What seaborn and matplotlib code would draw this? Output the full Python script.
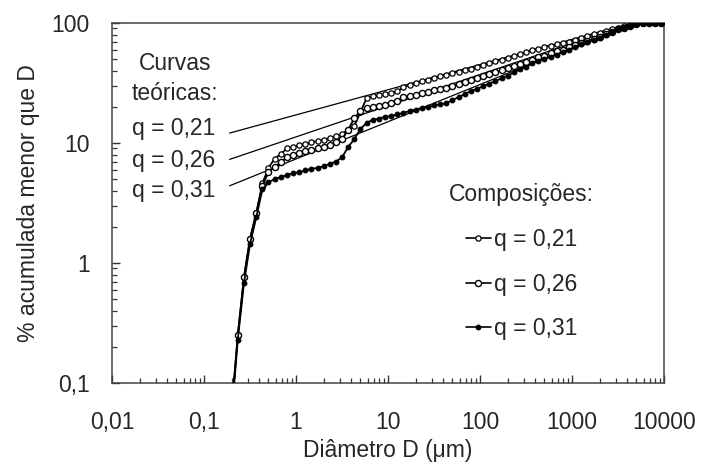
import numpy as np
import pandas as pd
import matplotlib
matplotlib.use("Agg")
import matplotlib.pyplot as plt
import seaborn as sns
from matplotlib.ticker import FixedLocator, FixedFormatter, LogLocator, NullFormatter
from matplotlib.lines import Line2D

# ---------------- data ----------------
diam_um = [0.200, 0.233, 0.272, 0.317, 0.370, 0.431, 0.502, 0.586, 0.683, 0.796,
           0.928, 1.08, 1.26, 1.47, 1.72, 2.00, 2.33, 2.72, 3.17, 3.70,
           4.31, 5.02, 5.86, 6.83, 7.96, 9.28, 10.8, 12.6, 14.7, 17.2,
           20.0, 23.3, 27.2, 31.7, 37.0, 43.1, 50.2, 58.6, 68.3, 79.6,
           92.8, 108, 126, 147, 172, 200, 233, 272, 317, 370,
           431, 502, 586, 683, 796, 928, 1080, 1260, 1470, 1720,
           2000, 2330, 2720, 3170, 3700, 4310, 5020, 5860, 6830, 7960, 9280]

cpft_q021 = [0.06, 0.25, 0.76, 1.6, 2.6, 4.6, 6.2, 7.4, 8.1, 9.0,
             9.3, 9.6, 9.8, 10.1, 10.4, 10.6, 11.0, 11.4, 11.9, 12.9,
             13.9, 18.1, 23.7, 24.6, 25.0, 25.5, 26.1, 26.9, 29.2, 30.4,
             31.6, 32.6, 33.8, 35.0, 36.2, 37.2, 38.3, 39.4, 40.2, 41.4,
             43.0, 44.7, 46.0, 47.8, 49.6, 51.4, 53.1, 55.1, 57.3, 59.6,
             61.3, 63.1, 64.9, 66.2, 68.1, 70.1, 72.1, 75.0, 77.9, 81.0,
             82.5, 85.8, 89.1, 91.7, 94.4, 97.2, 99.0, 100, 100, 100, 100]

cpft_q026 = [0.06, 0.25, 0.76, 1.6, 2.6, 4.4, 5.7, 6.3, 6.9, 7.6,
             7.9, 8.2, 8.5, 8.7, 9.0, 9.3, 9.6, 10.1, 10.8, 12.9,
             16.2, 18.5, 19.4, 19.9, 20.4, 20.9, 21.5, 22.4, 24.1, 24.6,
             25.1, 25.9, 26.6, 27.6, 28.4, 29.0, 29.8, 31.0, 32.2, 33.5,
             34.8, 36.2, 37.6, 38.7, 40.6, 42.2, 43.9, 45.5, 47.3, 49.2,
             51.6, 53.6, 55.7, 57.9, 60.1, 63.1, 65.6, 68.1, 70.8, 73.6,
             76.5, 80.2, 84.1, 88.3, 91.7, 95.3, 98.1, 99.5, 100, 100, 100]

cpft_q031 = [0.055, 0.23, 0.68, 1.45, 2.4, 4.1, 4.7, 5.0, 5.2, 5.4,
             5.6, 5.7, 5.9, 6.1, 6.2, 6.4, 6.7, 7.0, 7.6, 9.3,
             10.8, 13.1, 14.7, 15.6, 16.0, 16.5, 16.8, 17.3, 17.8, 18.5,
             19.0, 19.6, 19.9, 20.6, 21.0, 21.5, 22.8, 24.1, 25.6, 27.1,
             28.2, 29.8, 31.3, 32.9, 34.5, 36.5, 38.7, 41.0, 43.4, 46.0,
             48.3, 50.1, 52.1, 54.6, 57.3, 60.1, 63.1, 66.2, 69.5, 72.1,
             75.7, 79.4, 84.1, 88.3, 91.7, 95.3, 98.1, 99.5, 100, 100, 100]

series_labels = ["q = 0,21", "q = 0,26", "q = 0,31"]

# theoretical (Andreasen) straight lines: end points
theo_diam = [0.19, 4500]
theo_q021 = [12.1, 100]
theo_q026 = [7.3, 100]
theo_q031 = [4.4, 100]

xtick_vals = [0.01, 0.1, 1, 10, 100, 1000, 10000]
xtick_labels = ["0,01", "0,1", "1", "10", "100", "1000", "10000"]
ytick_vals = [0.1, 1, 10, 100]
ytick_labels = ["0,1", "1", "10", "100"]

# ---------------- style ----------------
sns.set_theme(style="ticks")
plt.rcParams["font.family"] = ["Liberation Sans", "DejaVu Sans"]
FS = 16.5

W, H = 701, 468
fig = plt.figure(figsize=(W / 100, H / 100), dpi=100)
ax = fig.add_axes([112 / W, 1 - 383 / H, (664 - 112) / W, (383 - 23) / H])

df = pd.DataFrame({
    "D": diam_um * 3,
    "pct": cpft_q021 + cpft_q026 + cpft_q031,
    "serie": sum([[s] * len(diam_um) for s in series_labels], []),
})

theo = pd.DataFrame({
    "D": theo_diam * 3,
    "pct": theo_q021 + theo_q026 + theo_q031,
    "q": ["0,21"] * 2 + ["0,26"] * 2 + ["0,31"] * 2,
})

ax.set_xscale("log")
ax.set_yscale("log")

for q in ["0,21", "0,26", "0,31"]:
    sub = theo[theo["q"] == q]
    sns.lineplot(data=sub, x="D", y="pct", ax=ax, color="black", lw=0.9,
                 zorder=2, legend=False, sort=False)

styles = {
    "q = 0,21": dict(marker="o", ms=3.8, mfc="white", mec="black", mew=0.9),
    "q = 0,26": dict(marker="o", ms=4.4, mfc="white", mec="black", mew=1.0),
    "q = 0,31": dict(marker="o", ms=3.4, mfc="black", mec="black", mew=0.8),
}
for s in series_labels:
    sub = df[df["serie"] == s]
    sns.lineplot(data=sub, x="D", y="pct", ax=ax, color="black", lw=1.3,
                 zorder=3, legend=False, **styles[s])

ax.set_xlim(0.01, 10000)
ax.set_ylim(0.1, 100)

ax.xaxis.set_major_locator(FixedLocator(xtick_vals))
ax.xaxis.set_major_formatter(FixedFormatter(xtick_labels))
ax.yaxis.set_major_locator(FixedLocator(ytick_vals))
ax.yaxis.set_major_formatter(FixedFormatter(ytick_labels))
ax.xaxis.set_minor_locator(LogLocator(base=10, subs=np.arange(2, 10), numticks=20))
ax.yaxis.set_minor_locator(LogLocator(base=10, subs=np.arange(2, 10), numticks=20))
ax.xaxis.set_minor_formatter(NullFormatter())
ax.yaxis.set_minor_formatter(NullFormatter())

ax.tick_params(axis="both", which="both", bottom=True, left=True, top=False, right=False)
ax.tick_params(axis="both", which="major", direction="in", length=6, width=1.0,
               color="#333333", labelsize=FS)
ax.tick_params(axis="both", which="minor", direction="in", length=3.5, width=0.9,
               color="#333333")
ax.tick_params(axis="x", which="major", pad=20)
ax.tick_params(axis="y", which="major", pad=16)

for sp in ax.spines.values():
    sp.set_color("#444444")
    sp.set_linewidth(1.1)

ax.set_xlabel("Diâmetro D (μm)", fontsize=FS, labelpad=4)
ax.set_ylabel("% acumulada menor que D", fontsize=FS, labelpad=8)
ax.grid(False)

# annotations for theoretical curves (figure-pixel positions)
def ftext(x, y, s, **kw):
    fig.text(x / W, 1 - y / H, s, fontsize=FS, va="center", **kw)

ftext(175, 63, "Curvas", ha="center")
ftext(175, 93, "teóricas:", ha="center")
ftext(174, 129, "q = 0,21", ha="center")
ftext(174, 160, "q = 0,26", ha="center")
ftext(174, 191, "q = 0,31", ha="center")

# legend for compositions
handles = [Line2D([0], [0], color="black", lw=1.2, **styles[s]) for s in series_labels]
leg = ax.legend(handles, series_labels, title="Composições:", fontsize=FS,
                title_fontsize=FS, frameon=False, handlelength=1.1,
                handletextpad=0.15, labelspacing=0.95, markerscale=1.0,
                loc="upper left", bbox_to_anchor=((440 - 112) / 552, (383 - 174) / 360),
                borderaxespad=0)
leg._legend_box.align = "center"

fig.savefig("out.png", dpi=100)
